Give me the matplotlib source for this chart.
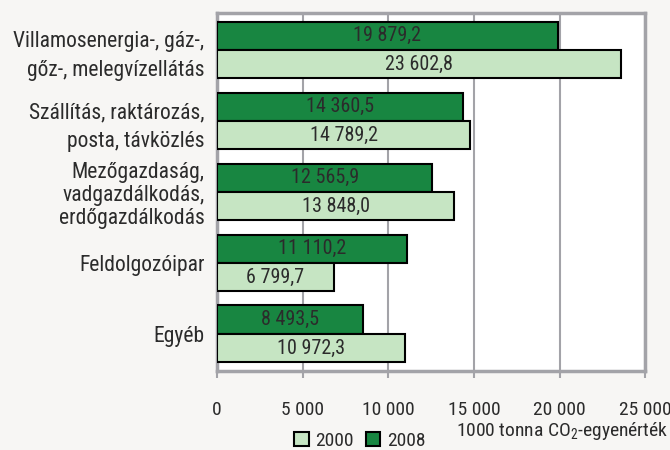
import matplotlib.pyplot as plt
import numpy as np

plt.rcParams['font.family'] = ['Roboto Condensed', 'DejaVu Sans']
plt.rcParams['mathtext.fontset'] = 'custom'
plt.rcParams['mathtext.rm'] = 'Roboto Condensed'

# kategóriák és értékek (1000 tonna CO2-egyenérték)
categories = ["Villamosenergia-, gáz-,\ngőz-, melegvízellátás",
              "Szállítás, raktározás,\nposta, távközlés",
              "Mezőgazdaság,\nvadgazdálkodás,\nerdőgazdálkodás",
              "Feldolgozóipar",
              "Egyéb"]
values_2008 = [19879.2, 14360.5, 12565.9, 11110.2, 8493.5]
values_2000 = [23602.8, 14789.2, 13848.0, 6799.7, 10972.3]
xticks = [0, 5000, 10000, 15000, 20000, 25000]

dark = '#188641'
light = '#c6e5c3'
grey = '#a3a3a8'
textc = '#2b2b2b'
bg = '#f7f6f4'


def fmt(v, dec=1):
    s = f"{v:,.{dec}f}"
    return s.replace(',', ' ').replace('.', ',')


fig = plt.figure(figsize=(6.7, 4.5), dpi=100, facecolor=bg)
ax = fig.add_axes([0.324, 0.176, 0.639, 0.795])

y = np.arange(len(categories))
h = 0.4
b08 = ax.barh(y - h / 2, values_2008, height=h, color=dark, edgecolor='black', linewidth=1.5, zorder=3)
b00 = ax.barh(y + h / 2, values_2000, height=h, color=light, edgecolor='black', linewidth=1.5, zorder=3)

# értékcímkék a sávok közepén
for rect, v in zip(list(b08) + list(b00), values_2008 + values_2000):
    ax.text(rect.get_x() + rect.get_width() / 2, rect.get_y() + rect.get_height() / 2, fmt(v),
            ha='center', va='center', fontsize=14.5, color=textc, zorder=4)

ax.set_xlim(0, 25000)
ax.set_ylim(len(categories) - 0.48, -0.52)
ax.set_xticks(xticks)
ax.set_xticklabels([fmt(t, 0) for t in xticks], fontsize=14, color=textc)
ax.tick_params(axis='x', length=5, width=1.5, color=grey, pad=17)
ax.xaxis.grid(True, color=grey, linewidth=1.5, zorder=0)

ax.set_yticks(y)
ax.set_yticklabels(categories, fontsize=15.5, color=textc)
ax.tick_params(axis='y', length=0, pad=9)
for lab in ax.get_yticklabels():
    if lab.get_text().count('\n') == 2:
        lab.set_linespacing(1.12)
    else:
        lab.set_linespacing(1.5)

for s in ax.spines.values():
    s.set_color(grey)
    s.set_linewidth(2.5)
ax.set_facecolor('white')

fig.legend([b00, b08], ['2000', '2008'], loc='center', bbox_to_anchor=(0.537, 0.02), ncol=2,
           frameon=False, fontsize=14, handlelength=0.75, handleheight=0.75, handletextpad=0.35,
           columnspacing=0.6, borderaxespad=0, borderpad=0, labelcolor=textc)

fig.text(0.997, 0.042, '1000 tonna CO$_{2}$-egyenérték', ha='right', va='center', fontsize=14, color=textc)

fig.savefig('out.png', dpi=100, facecolor=bg)
